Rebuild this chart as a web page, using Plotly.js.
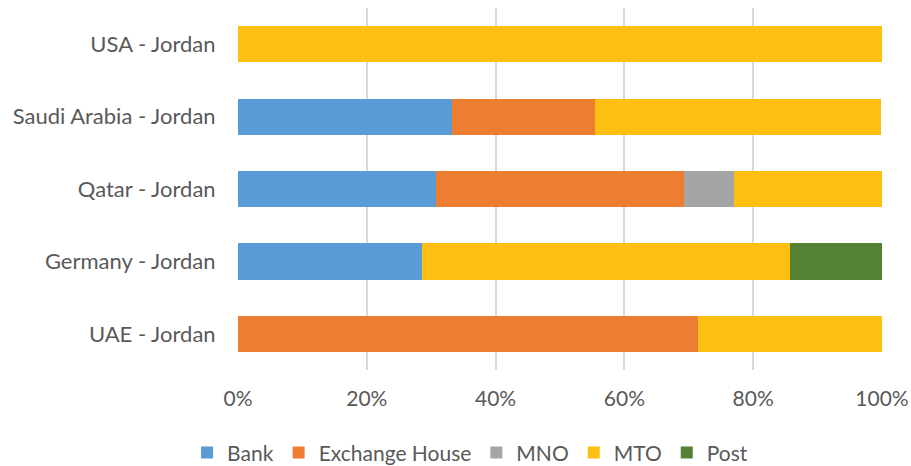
<!DOCTYPE html>
<html><head><meta charset="utf-8">
<script src="https://cdn.plot.ly/plotly-3.0.1.min.js"></script>
<style>html,body{margin:0;padding:0;background:#fff;}#chart{width:911px;height:466px;}</style>
</head><body><div id="chart"></div>
<script>
const corridors = ["UAE - Jordan", "Germany - Jordan", "Qatar - Jordan", "Saudi Arabia - Jordan", "USA - Jordan"];
const bank = [0, 28.6, 30.8, 33.3, 0];
const exchangeHouse = [71.4, 0, 38.5, 22.2, 0];
const mno = [0, 0, 7.7, 0, 0];
const mto = [28.6, 57.1, 23.1, 44.4, 100];
const post = [0, 14.3, 0, 0, 0];
const tickVals = [0, 20, 40, 60, 80, 100];
const tickText = ["0%", "20%", "40%", "60%", "80%", "100%"];

const series = [
  {name: "Bank", values: bank, color: "#5B9BD5"},
  {name: "Exchange House", values: exchangeHouse, color: "#ED7D31"},
  {name: "MNO", values: mno, color: "#A5A5A5"},
  {name: "MTO", values: mto, color: "#FDBF12"},
  {name: "Post", values: post, color: "#548235"}
];
const data = series.map(s => ({
  type: "bar", orientation: "h", name: s.name, x: s.values, y: corridors,
  marker: {color: s.color, line: {width: 0}}, hoverinfo: "x+name"
}));
const layout = {
  width: 911, height: 466, barmode: "stack", bargap: 0.5,
  paper_bgcolor: "#fff", plot_bgcolor: "#fff",
  margin: {l: 238, r: 29, t: 8, b: 96},
  font: {family: "Lato, 'Open Sans', sans-serif", size: 22, color: "#595959"},
  xaxis: {range: [0, 100], tickvals: tickVals, ticktext: tickText, showgrid: true,
    gridcolor: "#D9D9D9", gridwidth: 2, zeroline: false, showline: false,
    ticks: "outside", ticklen: 10, tickcolor: "rgba(0,0,0,0)", tickfont: {size: 21, color: "#595959"}, fixedrange: true},
  yaxis: {showgrid: false, showline: false, ticks: "outside", ticklen: 17, tickcolor: "rgba(0,0,0,0)", zeroline: false,
    tickfont: {size: 22, color: "#595959"}, categoryorder: "array", categoryarray: corridors},
  legend: {orientation: "h", xref: "container", yref: "container", x: 0.516, xanchor: "center",
    y: 0.028, yanchor: "middle",
    font: {size: 21, color: "#595959"}, traceorder: "normal", itemwidth: 30},
  showlegend: true
};
Plotly.newPlot("chart", data, layout, {displayModeBar: false, staticPlot: true});
</script></body></html>
